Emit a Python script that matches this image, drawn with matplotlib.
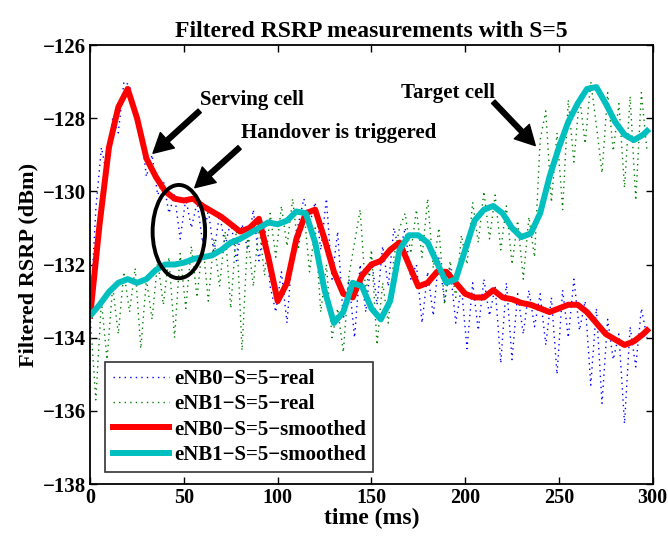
import numpy as np
import matplotlib.pyplot as plt
from matplotlib.patches import Ellipse

plt.rcParams['font.family'] = ['Liberation Serif', 'DejaVu Serif']
plt.rcParams['font.weight'] = 'bold'

#----------------------------------------------------------#
# Data

t_smooth = [0, 5, 10, 15, 20, 25, 30, 35, 40, 45, 50, 55, 60, 65, 70, 75, 80, 85, 90, 95,
            100, 105, 110, 115, 120, 125, 130, 135, 140, 145, 150, 155, 160, 165, 170, 175,
            180, 185, 190, 195, 200, 205, 210, 215, 220, 225, 230, 235, 240, 245, 250, 255,
            260, 265, 270, 275, 280, 285, 290, 295, 297]

enb0_smooth = [-133.4, -130.9, -128.8, -127.7, -127.2, -128.0, -129.1, -129.6, -130.0, -130.2,
               -130.25, -130.2, -130.4, -130.55, -130.7, -130.9, -131.1, -131.0, -130.75, -131.8,
               -133.0, -132.5, -131.3, -130.6, -130.5, -131.3, -132.2, -132.8, -132.9, -132.3,
               -132.0, -131.9, -131.6, -131.4, -132.0, -132.6, -132.5, -132.2, -132.2, -132.5,
               -132.8, -132.9, -132.9, -132.7, -132.9, -132.95, -133.05, -133.1, -133.2, -133.3,
               -133.2, -133.1, -133.1, -133.3, -133.6, -133.9, -134.05, -134.2, -134.1, -133.9,
               -133.8]

enb1_smooth = [-133.4, -133.1, -132.75, -132.5, -132.4, -132.5, -132.4, -132.15, -132.0, -132.0,
               -131.95, -131.85, -131.8, -131.75, -131.6, -131.4, -131.3, -131.15, -131.0, -130.85,
               -130.9, -130.8, -130.55, -130.6, -131.4, -132.7, -133.6, -133.3, -132.5, -132.6,
               -133.2, -133.5, -133.0, -131.6, -131.2, -131.2, -131.4, -131.95, -132.5, -132.4,
               -131.6, -130.8, -130.5, -130.4, -130.6, -131.0, -131.25, -131.15, -130.6, -129.6,
               -128.8, -128.1, -127.6, -127.2, -127.15, -127.6, -128.1, -128.45, -128.6, -128.45,
               -128.35]

t_real = list(range(0, 300, 3))

enb0_real = [-133.4, -130.5, -128.8, -129.6, -128.0, -128.4, -127.0, -127.1, -127.9, -128.3,
             -129.6, -129.0, -130.1, -129.7, -130.6, -130.1, -131.3, -130.2, -131.0, -130.3,
             -131.4, -130.5, -131.7, -130.6, -131.5, -130.8, -131.9, -130.9, -131.6, -130.5,
             -131.9, -130.9, -132.6, -133.3, -132.2, -133.6, -131.5, -130.9, -130.2, -130.9,
             -130.3, -131.6, -130.2, -132.4, -131.1, -133.5, -132.4, -134.0, -132.0, -133.3,
             -131.8, -133.1, -131.5, -132.6, -131.0, -131.7, -131.0, -132.4, -132.0, -133.6,
             -132.2, -133.4, -131.8, -133.0, -132.1, -133.6, -132.6, -134.3, -132.5, -133.8,
             -132.4, -133.4, -132.6, -134.7, -132.5, -134.6, -132.8, -133.9, -132.7, -133.7,
             -132.8, -134.2, -132.9, -135.0, -132.7, -134.0, -132.4, -133.8, -133.0, -135.3,
             -133.2, -135.8, -133.5, -134.6, -133.9, -136.35, -133.7, -134.8, -133.2, -134.0]

enb1_real = [-133.4, -135.7, -133.0, -134.6, -132.6, -133.9, -132.2, -133.3, -132.1, -134.3,
             -132.4, -133.5, -131.9, -133.1, -131.8, -134.0, -131.7, -133.2, -131.5, -132.9,
             -131.4, -133.0, -131.3, -132.6, -131.1, -133.2, -131.0, -134.35, -131.2, -132.6,
             -130.9, -132.3, -130.6, -131.8, -130.4, -131.5, -130.2, -131.6, -130.5, -132.2,
             -131.0, -133.3, -132.0, -134.0, -133.2, -134.4, -132.3, -131.4, -130.5, -132.8,
             -131.6, -134.2, -132.5, -133.6, -131.8, -131.0, -130.6, -131.7, -130.5, -131.8,
             -130.2, -132.1, -131.0, -133.1, -131.9, -132.9, -131.2, -132.0, -130.3, -131.4,
             -130.0, -131.3, -130.1, -131.6, -130.4, -132.0, -130.8, -132.4, -130.7, -131.8,
             -128.6, -127.8, -130.3, -128.4, -130.5, -127.5, -129.2, -127.4, -128.7, -127.0,
             -128.2, -129.5, -127.3, -128.9, -127.6, -129.9, -127.4, -130.25, -127.3, -128.9]

labels = ['eNB0\u2212S=5\u2212real', 'eNB1\u2212S=5\u2212real',
          'eNB0\u2212S=5\u2212smoothed', 'eNB1\u2212S=5\u2212smoothed']

#----------------------------------------------------------#
# Plotting

fig = plt.figure(figsize=(6.68, 5.36), dpi=100)
ax = fig.add_axes([0.135, 0.097, 0.842, 0.819])

ax.plot(t_real, enb0_real, color='blue', linestyle=(0, (1, 3)), lw=1.0, label=labels[0])
ax.plot(t_real, enb1_real, color=(0, 0.5, 0), linestyle=(0, (1, 3)), lw=1.0, label=labels[1])
ax.plot(t_smooth, enb0_smooth, color='red', lw=4.3, label=labels[2])
ax.plot(t_smooth, enb1_smooth, color=(0, 0.75, 0.75), lw=4.3, label=labels[3])

ax.add_patch(Ellipse((47.3, -131.1), 28, 2.55, fill=False, edgecolor='black', lw=2.8, zorder=5))

arrow = dict(facecolor='black', edgecolor='black', width=3.5, headwidth=15, headlength=14, shrink=0)
ax.annotate('', xy=(33.5, -128.96), xytext=(58.4, -127.8), arrowprops=arrow)
ax.annotate('', xy=(55.8, -129.9), xytext=(79.7, -128.8), arrowprops=arrow)
ax.annotate('', xy=(237.4, -128.75), xytext=(215, -127.55), arrowprops=arrow)
ax.text(58.5, -127.5, 'Serving cell', fontsize=15, fontweight='bold', va='center')
ax.text(80.5, -128.4, 'Handover is triggered', fontsize=15, fontweight='bold', va='center')
ax.text(166, -127.3, 'Target cell', fontsize=15, fontweight='bold', va='center')

ax.set_xlim(0, 300)
ax.set_ylim(-138, -126)
ax.set_xticks([0, 50, 100, 150, 200, 250, 300])
ax.set_yticks([-138, -136, -134, -132, -130, -128, -126])
ax.set_yticklabels(['\u2212138', '\u2212136', '\u2212134', '\u2212132', '\u2212130', '\u2212128', '\u2212126'])
ax.tick_params(direction='in', top=True, right=True, labelsize=15, length=5, width=1, pad=3)
ax.tick_params(axis='x', labelsize=14.5)
for lab in ax.get_xticklabels() + ax.get_yticklabels():
    lab.set_fontweight('bold')
for s in ax.spines.values():
    s.set_linewidth(1.3)

ax.set_xlabel('time (ms)', fontsize=17, fontweight='bold', labelpad=0)
ax.set_ylabel('Filtered RSRP (dBm)', fontsize=16, fontweight='bold', labelpad=3)
ax.set_title('Filtered RSRP measurements with S=5', fontsize=17, fontweight='bold', pad=6)

leg = ax.legend(loc='lower left', bbox_to_anchor=(0.027, 0.027), fontsize=15, frameon=True,
                fancybox=False, edgecolor='black', handlelength=2.7, borderpad=0.35,
                labelspacing=0.25, handletextpad=0.25, borderaxespad=0)
leg.get_frame().set_linewidth(1.2)
for txt in leg.get_texts():
    txt.set_fontweight('bold')

fig.savefig('out.png', dpi=100)
